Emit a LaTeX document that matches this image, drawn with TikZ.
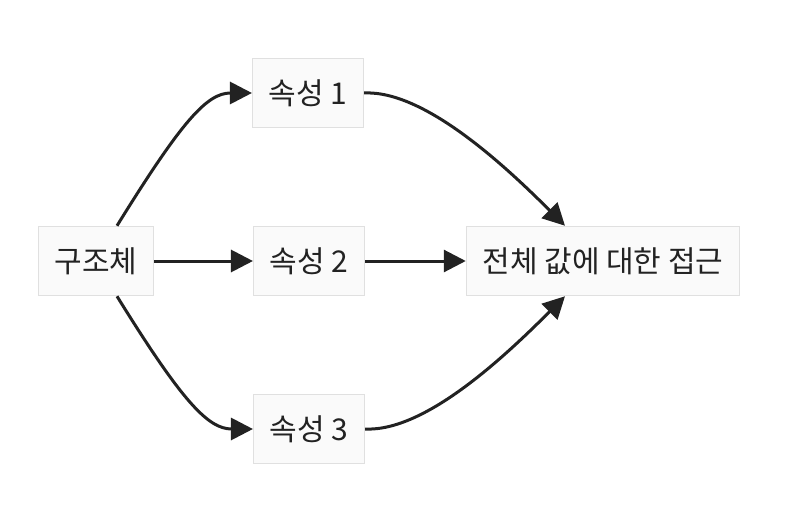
\documentclass[tikz,border=0pt]{standalone}
\usepackage{fontspec}
\setmainfont{Noto Sans CJK KR}
\usepackage{xcolor}
\usepackage{tikz}
\usetikzlibrary{arrows.meta}
\definecolor{caixa}{HTML}{FAFAFA}
\definecolor{borda}{HTML}{E0E0E0}
\definecolor{linha}{HTML}{222222}

\begin{document}
\begin{tikzpicture}[x = 1pt, y = -1pt, caixa/.style = {draw = borda, fill = caixa, line width = 1.5pt, minimum height = 69pt, inner xsep = 16pt, font = \fontsize{30}{36}\selectfont, text = linha}, seta/.style = {line width = 3pt, draw = linha, -{Triangle[length = 22pt, width = 22pt]}}]
						\useasboundingbox (0,0) rectangle (798,516);
						\node[caixa] (s) at (96, 261) {구조체};
						\node[caixa] (a1) at (308, 93) {속성 1};
						\node[caixa] (a2) at (309, 261) {속성 2};
						\node[caixa] (a3) at (309, 429) {속성 3};
						\node[caixa] (t) at (603, 261) {전체 값에 대한 접근};
						\draw[seta] ([xshift = 21pt]s.north) .. controls +(65,-105) and +(-45,0) .. (a1.west);
						\draw[seta] (s.east) -- (a2.west);
						\draw[seta] ([xshift = 21pt]s.south) .. controls +(65,105) and +(-45,0) .. (a3.west);
						\draw[seta] (a1.east) .. controls +(60,-3) and +(-60,-60) .. ([xshift = -38pt]t.north);
						\draw[seta] (a2.east) -- (t.west);
						\draw[seta] (a3.east) .. controls +(60,3) and +(-60,60) .. ([xshift = -38pt]t.south);
					\end{tikzpicture}
\end{document}
